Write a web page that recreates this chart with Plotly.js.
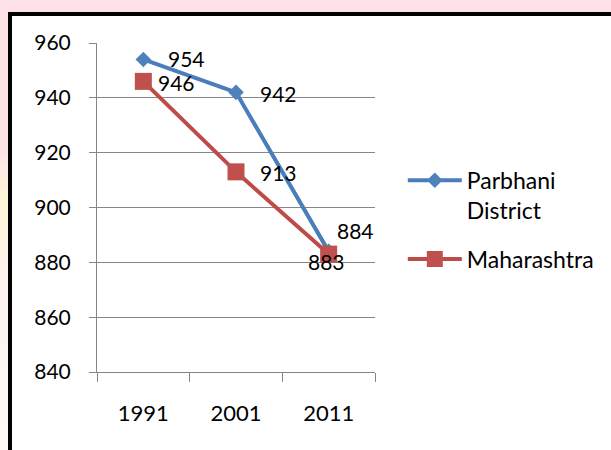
<!DOCTYPE html>
<html>
<head>
<meta charset="utf-8">
<script src="https://cdn.plot.ly/plotly-3.0.1.min.js"></script>
<style>
  html, body { margin: 0; padding: 0; width: 611px; height: 450px; overflow: hidden;
    background: linear-gradient(180deg, #fde3e7 0px, #fde3e7 150px, #fef6d8 200px, #fdf3f3 300px, #fdfaf6 450px); }
  #frame { position: absolute; left: 8px; top: 12px; width: 620px; height: 460px;
    border-left: 4px solid #000; border-top: 4px solid #000; background: #fff; }
  #chart { position: absolute; left: 0; top: 0; width: 599px; height: 434px; }
</style>
</head>
<body>
<div id="frame"><div id="chart"></div></div>
<script>
const years = ['1991', '2001', '2011'];
const parbhani = [954, 942, 884];
const maharashtra = [946, 913, 883];
const seriesNames = ['Parbhani<br>District', 'Maharashtra'];
const yTicks = [840, 860, 880, 900, 920, 940, 960];

const FONT = 'Lato, "Open Sans", sans-serif';
const blue = '#4A7EBB';
const red = '#BE4B48';

const traces = [
  { x: years, y: parbhani, name: seriesNames[0], legendgroup: 'a', type: 'scatter', mode: 'lines+markers',
    line: { color: blue, width: 4 }, marker: { symbol: 'diamond', size: 12, color: '#4F81BD' } },
  { x: years, y: maharashtra, name: seriesNames[1], legendgroup: 'b', type: 'scatter', mode: 'lines+markers',
    line: { color: red, width: 4 }, marker: { symbol: 'square', size: 17, color: '#C0504D' } }
];

// label placement per point: [xanchor, xshift, yshift]
const pLabelPos = [['left', 23, 1], ['left', 22, -1], ['left', 6, 21]];
const mLabelPos = [['left', 13, -1], ['left', 22, -1], ['center', -2, -7]];
const annotations = [];
years.forEach((yr, i) => {
  annotations.push({ x: i, y: parbhani[i], xref: 'x', yref: 'y', text: String(parbhani[i]),
    showarrow: false, xanchor: pLabelPos[i][0], yanchor: 'middle', xshift: pLabelPos[i][1], yshift: pLabelPos[i][2],
    font: { family: FONT, size: 21, color: '#000' } });
  annotations.push({ x: i, y: maharashtra[i], xref: 'x', yref: 'y', text: String(maharashtra[i]),
    showarrow: false, xanchor: mLabelPos[i][0], yanchor: 'middle', xshift: mLabelPos[i][1], yshift: mLabelPos[i][2],
    font: { family: FONT, size: 21, color: '#000' } });
});

const layout = {
  width: 599, height: 434,
  margin: { l: 85, r: 236, t: 27, b: 78 },
  paper_bgcolor: 'rgba(0,0,0,0)', plot_bgcolor: 'rgba(0,0,0,0)',
  font: { family: FONT, size: 21, color: '#000' },
  showlegend: true,
  legend: { x: 1.1, y: 0.648, xanchor: 'left', yanchor: 'top', valign: 'top', itemwidth: 54,
    traceorder: 'grouped', tracegroupgap: 16,
    font: { family: FONT, size: 23, color: '#000' }, bgcolor: 'rgba(0,0,0,0)' },
  xaxis: { type: 'category', range: [-0.5, 2.5], tickson: 'boundaries', ticks: 'outside', ticklen: 9,
    tickcolor: '#868686', showline: true, linecolor: '#868686', linewidth: 1, showgrid: false,
    ticklabelstandoff: 22, tickfont: { family: FONT, size: 22, color: '#000' }, fixedrange: true },
  yaxis: { range: [840, 960], tickvals: yTicks, ticktext: yTicks.map(String), ticks: 'outside', ticklen: 7,
    tickcolor: '#868686', showline: true, linecolor: '#868686', linewidth: 1, showgrid: true,
    gridcolor: '#868686', gridwidth: 1, zeroline: false, ticklabelstandoff: 14, fixedrange: true },
  annotations: annotations
};

Plotly.newPlot('chart', traces, layout, { displayModeBar: false, staticPlot: true });
</script>
</body>
</html>
